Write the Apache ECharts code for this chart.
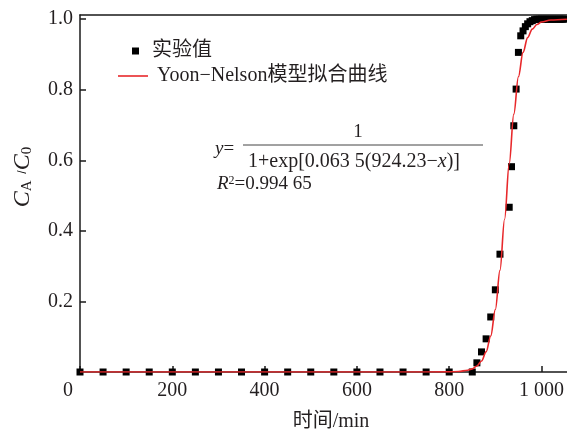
<!DOCTYPE html>
<html>
<head>
<meta charset="utf-8">
<script src="https://cdn.jsdelivr.net/npm/echarts@6/dist/echarts.min.js"></script>
<style>html,body{margin:0;padding:0;background:#fff}#main{width:567px;height:431px}</style>
</head>
<body>
<div id="main"></div>
<script>
// 实验值
const expX = [0,50,100,150,200,250,300,350,400,450,500,550,600,650,700,750,800,850,
    860,870,880,890,900,910,930,935,940,945,950,955,960,965,970,975,980,985,
    990,995,1000,1005,1010,1015,1020,1025,1030,1035,1040,1045,1050];
const expY = [0,0,0,0,0,0,0,0,0,0,0,0,0,0,0,0,0,0,
    0.026,0.057,0.094,0.156,0.233,0.334,0.467,0.582,0.698,0.802,0.906,0.953,0.967,0.979,0.987,0.993,0.996,0.999,
    1,1,1,1,1,1,1,1,1,1,1,1,1];
// 拟合曲线
const fitX = [0,700,800,820,840,850,860,870,880,890,900,910,920,930,940,950,960,970,980,990,1000,1020,1055];
const fitY = [0,0,0.0004,0.0013,0.005,0.009,0.017,0.031,0.057,0.102,0.177,0.288,0.433,0.590,0.731,0.837,0.906,0.948,0.972,0.985,0.992,0.998,1];
const xTicks = [0,200,400,600,800,1000];
const yTicks = [0.2,0.4,0.6,0.8,1.0];

const FONT = "'Liberation Serif','Noto Sans CJK SC',serif";
const TXT = '#231f20';
const AX = '#1a1a1a';
const RED = '#e8282b';

const chart = echarts.init(document.getElementById('main'));
const option = {
    animation: false,
    textStyle: { fontFamily: FONT, color: TXT },
    grid: { left: 80, right: 0, top: 15, bottom: 59 },
    legend: [
        { data: [{ name: '实验值', icon: 'rect' }], left: 127, top: 36, itemWidth: 7, itemHeight: 7,
          textStyle: { fontFamily: FONT, fontSize: 20, color: TXT, padding: [0,0,0,8] } },
        { data: [{ name: 'Yoon\u2212Nelson模型拟合曲线', icon: 'rect' }], left: 113, top: 61, itemWidth: 30, itemHeight: 1.6,
          textStyle: { fontFamily: FONT, fontSize: 20, color: TXT, padding: [0,0,0,4] } }
    ],
    xAxis: [{
        type: 'value', min: 0, max: 1055, interval: 200,
        splitLine: { show: false },
        axisLine: { lineStyle: { color: AX, width: 1.5 } },
        axisTick: { inside: true, length: 6, customValues: xTicks, lineStyle: { color: AX, width: 1.5 } },
        axisLabel: {
            customValues: xTicks, margin: 9, fontFamily: FONT, fontSize: 20, color: TXT,
            formatter: v => v === 0 ? '{z|0}' : (v === 1000 ? '1 000' : String(v)),
            rich: { z: { fontFamily: FONT, fontSize: 20, color: TXT, padding: [0, 24, 0, 0] } }
        }
    }, {
        type: 'value', min: 0, max: 1055, position: 'top',
        splitLine: { show: false }, axisTick: { show: false }, axisLabel: { show: false },
        axisLine: { lineStyle: { color: AX, width: 1.5 } }
    }],
    yAxis: {
        type: 'value', min: 0, max: 1.012, interval: 0.2,
        splitLine: { show: false },
        axisLine: { lineStyle: { color: AX, width: 1.5 } },
        axisTick: { inside: true, length: 6, customValues: yTicks, lineStyle: { color: AX, width: 1.5 } },
        axisLabel: { customValues: yTicks, margin: 7, fontFamily: FONT, fontSize: 20, color: TXT,
            formatter: v => v.toFixed(1) }
    },
    series: [{
        name: '实验值', type: 'scatter', symbol: 'rect', symbolSize: 7,
        itemStyle: { color: '#000', opacity: 1 },
        data: expX.map((x, i) => [x, expY[i]])
    }, {
        name: 'Yoon\u2212Nelson模型拟合曲线', type: 'line', symbol: 'none', smooth: 0.35, smoothMonotone: 'x',
        lineStyle: { color: RED, width: 1.6 }, itemStyle: { color: RED },
        data: fitX.map((x, i) => [x, fitY[i]])
    }],
    graphic: [
        { type: 'text', x: 23, y: 177, rotation: Math.PI / 2,
          style: { text: '{i|C}{s|A}  /{i|C}{s|0}', align: 'center', verticalAlign: 'middle',
            rich: { i: { fontFamily: FONT, fontStyle: 'italic', fontSize: 24, fill: TXT },
                    s: { fontFamily: FONT, fontSize: 15, fill: TXT, verticalAlign: 'bottom' } } } },
        { type: 'text', x: 331, y: 422,
          style: { text: '时间/min', font: '20px ' + FONT, fill: TXT, align: 'center', verticalAlign: 'middle' } },
        { type: 'text', x: 215, y: 149,
          style: { text: '{i|y}=', align: 'left', verticalAlign: 'middle', font: '19px ' + FONT, fill: TXT,
            rich: { i: { fontFamily: FONT, fontStyle: 'italic', fontSize: 19, fill: TXT } } } },
        { type: 'text', x: 358, y: 132,
          style: { text: '1', font: '19px ' + FONT, fill: TXT, align: 'center', verticalAlign: 'middle' } },
        { type: 'line', shape: { x1: 243, y1: 145, x2: 483, y2: 145 }, style: { stroke: '#444', lineWidth: 1 } },
        { type: 'text', x: 248, y: 162,
          style: { text: '1+exp[0.063 5(924.23\u2212{i|x})]', align: 'left', verticalAlign: 'middle', font: '20px ' + FONT, fill: TXT,
            rich: { i: { fontFamily: FONT, fontStyle: 'italic', fontSize: 20, fill: TXT } } } },
        { type: 'text', x: 217, y: 184,
          style: { text: '{i|R}{s|2}=0.994 65', align: 'left', verticalAlign: 'middle', font: '19px ' + FONT, fill: TXT,
            rich: { i: { fontFamily: FONT, fontStyle: 'italic', fontSize: 19, fill: TXT },
                    s: { fontFamily: FONT, fontSize: 12, fill: TXT, verticalAlign: 'top' } } } }
    ]
};
chart.setOption(option);
window.addEventListener('resize', () => chart.resize());
</script>
</body>
</html>
